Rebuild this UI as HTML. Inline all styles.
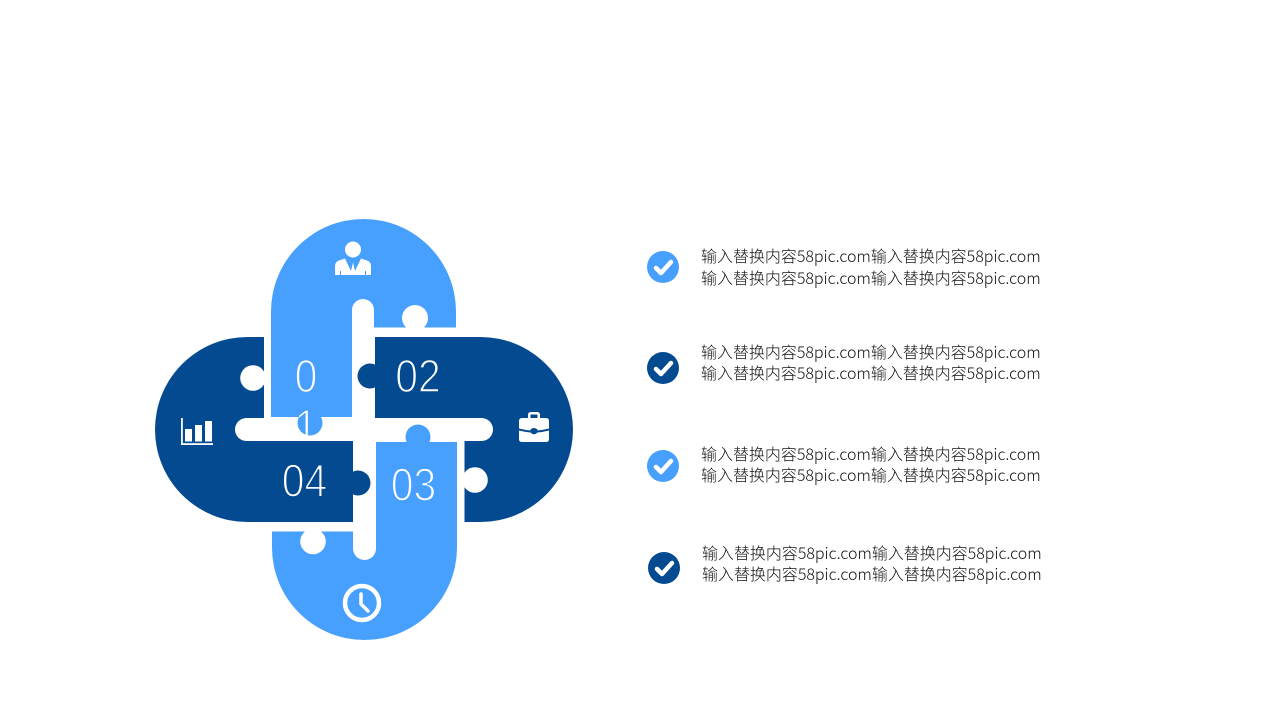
<!DOCTYPE html>
<html lang="zh">
<head>
<meta charset="utf-8">
<style>
html,body{margin:0;padding:0;background:#fff;}
body{width:1280px;height:720px;overflow:hidden;position:relative;}
svg{position:absolute;left:0;top:0;}
.l{position:absolute;font-family:"Noto Sans CJK SC","Liberation Sans",sans-serif;font-size:16px;line-height:22px;color:#111;white-space:nowrap;font-weight:300;letter-spacing:-0.03px;}
</style>
</head>
<body>
<svg width="1280" height="720" viewBox="0 0 1280 720">
  <defs>
    <clipPath id="oneclip">
      <circle cx="310" cy="423" r="12.500"/>
      <rect x="296" y="400" width="30" height="17"/>
    </clipPath>
  </defs>
  <!-- top light -->
  <path d="M271 417V311.500A92.500 92.500 0 0 1 456 311.500V327.500H374V417Z" fill="#48a0fe"/>
  <!-- left dark -->
  <path d="M264 337V430H353V522H247.500A92.500 92.500 0 0 1 247.500 337Z" fill="#044a91"/>
  <!-- right dark -->
  <path d="M375 337H480.500A92.500 92.500 0 0 1 480.500 522H464.500V430H375Z" fill="#044a91"/>
  <!-- bottom light -->
  <path d="M376 442H457V547.500A92.500 92.500 0 0 1 272 547.500V531.500H353V520H376Z" fill="#48a0fe"/>
  <!-- white bars -->
  <rect x="352" y="299" width="22" height="130" rx="11" fill="#fff"/>
  <rect x="353" y="430" width="23" height="130" rx="11.500" fill="#fff"/>
  <rect x="235" y="418" width="258" height="23" rx="11.500" fill="#fff"/>
  <!-- tabs -->
  <circle cx="310" cy="423" r="12.500" fill="#48a0fe"/>
  <rect x="304" y="414" width="12" height="4" fill="#48a0fe"/>
  <circle cx="370" cy="376" r="12.500" fill="#044a91"/>
  <rect x="370" y="370" width="6" height="12" fill="#044a91"/>
  <circle cx="358" cy="483" r="12.500" fill="#044a91"/>
  <circle cx="418" cy="437" r="12.500" fill="#48a0fe"/>
  <!-- notches -->
  <circle cx="415" cy="318" r="13" fill="#fff"/>
  <rect x="409" y="327" width="12" height="3" fill="#fff"/>
  <circle cx="253" cy="378" r="12.800" fill="#fff"/>
  <rect x="260" y="372" width="4" height="12" fill="#fff"/>
  <circle cx="475" cy="480" r="12.800" fill="#fff"/>
  <rect x="464" y="474" width="4" height="12" fill="#fff"/>
  <circle cx="313" cy="541.500" r="12.800" fill="#fff"/>
  <rect x="307" y="530" width="12" height="4" fill="#fff"/>
  <!-- numbers: thinned with a background-coloured stroke -->
  <g font-family="Liberation Sans, sans-serif" font-size="46.500" fill="#fff" stroke-width="1.500" text-anchor="middle">
    <text transform="translate(306 392) scale(.88 1)" stroke="#48a0fe">0</text>
    <g clip-path="url(#oneclip)"><text transform="translate(306 442) scale(.88 1)" stroke="#48a0fe">1</text></g>
    <text transform="translate(418 392) scale(.88 1)" stroke="#044a91">02</text>
    <text transform="translate(413.500 500.500) scale(.88 1)" stroke="#48a0fe">03</text>
    <text transform="translate(304.500 496.500) scale(.88 1)" stroke="#044a91">04</text>
  </g>
  <!-- person icon -->
  <g fill="#fff">
    <circle cx="353" cy="249.500" r="8"/>
    <path d="M335 275V266Q335 262 339 260.500L345 258.500L351 271L353 262.500L355 271L361 258.500L367 260.500Q371 262 371 266V275H366V271H365V275H341V271H340V275Z"/>
  </g>
  <!-- briefcase -->
  <g fill="#fff">
    <path d="M528 418V415Q528 412 531 412H537Q540 412 540 415V418H537.500V415Q537.500 414.500 537 414.500H531Q530.500 414.500 530.500 415V418Z"/>
    <path d="M519 421Q519 418 522 418H546Q549 418 549 421V428.500Q543 430 537.500 430.500V429.500Q534 426.500 530.500 429.500V430.500Q525 430 519 428.500Z"/>
    <path d="M519 430.500Q525 432 530.500 432.500Q534 436 537.500 432.500Q543 432 549 430.500V439Q549 442 546 442H522Q519 442 519 439Z"/>
  </g>
  <!-- chart -->
  <g fill="#fff">
    <rect x="181" y="418" width="1.800" height="27"/>
    <rect x="181" y="443.200" width="32" height="1.800"/>
    <rect x="185" y="429" width="7" height="12.500"/>
    <rect x="195" y="425" width="7" height="16.500"/>
    <rect x="205" y="421" width="7" height="20.500"/>
  </g>
  <!-- clock -->
  <circle cx="362" cy="603" r="17" fill="none" stroke="#fff" stroke-width="4.500"/>
  <path d="M361 594V604L368 611" fill="none" stroke="#fff" stroke-width="3.500" stroke-linecap="round" stroke-linejoin="round"/>
  <!-- checks -->
  <g stroke="#fff" stroke-width="4.500" fill="none" stroke-linecap="round" stroke-linejoin="round">
    <circle cx="663" cy="267" r="16" fill="#48a0fe" stroke="none"/>
    <path d="M656 268L661 273L671 262"/>
    <circle cx="663" cy="368" r="16" fill="#044a91" stroke="none"/>
    <path d="M656 369L661 374L671 363"/>
    <circle cx="663" cy="466" r="16" fill="#48a0fe" stroke="none"/>
    <path d="M656 467L661 472L671 461"/>
    <circle cx="664" cy="568" r="16" fill="#044a91" stroke="none"/>
    <path d="M657 569L662 574L672 563"/>
  </g>
</svg>
<div class="l" style="left:701px;top:243.500px">输入替换内容58pic.com输入替换内容58pic.com</div>
<div class="l" style="left:701px;top:265.500px">输入替换内容58pic.com输入替换内容58pic.com</div>
<div class="l" style="left:701px;top:339.500px">输入替换内容58pic.com输入替换内容58pic.com</div>
<div class="l" style="left:701px;top:360.500px">输入替换内容58pic.com输入替换内容58pic.com</div>
<div class="l" style="left:701px;top:441.500px">输入替换内容58pic.com输入替换内容58pic.com</div>
<div class="l" style="left:701px;top:462.500px">输入替换内容58pic.com输入替换内容58pic.com</div>
<div class="l" style="left:702px;top:540.500px">输入替换内容58pic.com输入替换内容58pic.com</div>
<div class="l" style="left:702px;top:561.500px">输入替换内容58pic.com输入替换内容58pic.com</div>
</body>
</html>
